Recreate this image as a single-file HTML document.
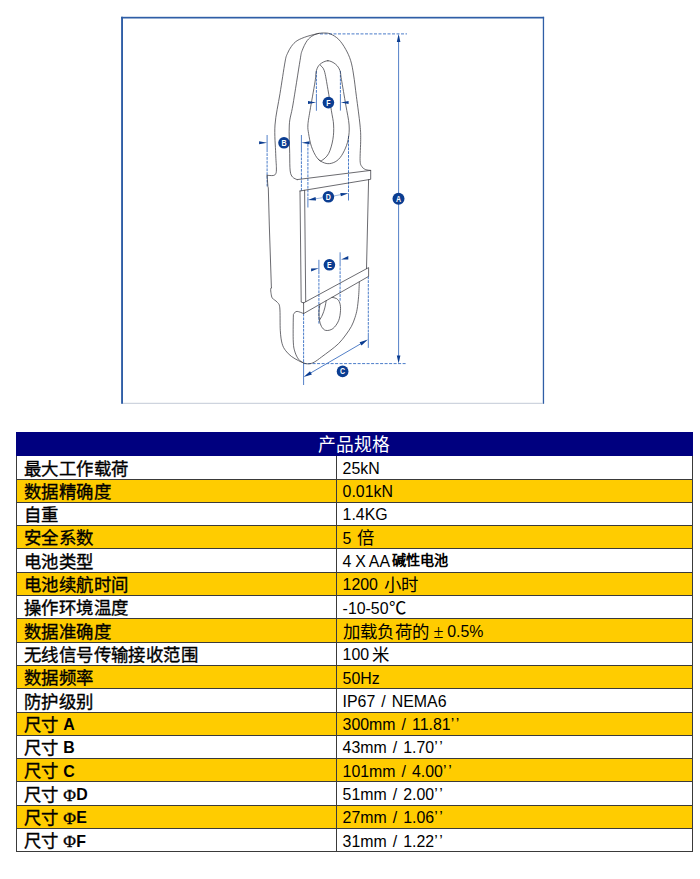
<!DOCTYPE html>
<html lang="zh-CN">
<head>
<meta charset="utf-8">
<title>产品规格</title>
<style>
  html, body { margin: 0; padding: 0; background: #ffffff; }
  body { width: 700px; height: 879px; position: relative; overflow: hidden;
         font-family: "Liberation Sans", sans-serif; color: #000; }
  #art { position: absolute; left: 0; top: 0; }
  table#spec { position: absolute; left: 16px; top: 432px; width: 677px;
               border-collapse: collapse; table-layout: fixed; }
  #spec td, #spec th { height: 19.7px; padding: 2.6px 0 0 0; border: 1px solid #3a3a3a;
               font-size: 15.9px; line-height: 19.7px; white-space: nowrap; overflow: hidden;
               vertical-align: middle; text-align: left; font-weight: normal; }
  #spec th { background: #00007f; color: #fff; text-align: center; border-color: #00007f;
             font-size: 17.8px; }
  #spec th span { position: relative; top: 0.5px; left: -0.5px; }
  #spec td.k { padding-left: 6.8px; }
  #spec td.v { padding-left: 5.6px; word-spacing: 1.6px; }
  #spec tr.y td { background: #ffcc00; }
  #spec .s { line-height: 0; font-family: "Liberation Serif", serif; font-size: 17.4px; letter-spacing: 0.45px; position: relative; top: 0.7px; }
  #spec .h { line-height: 0; font-size: 14.2px; font-weight: bold; position: relative; top: -1.6px; margin-left: -1px; }
  #spec .pm { line-height: 0; display: inline-block; width: 17.4px; text-align: center; font-size: 18px; letter-spacing: 0; }
  #spec .g { margin-left: 3px; }
  #spec td.nw { word-spacing: -0.6px; }
  #spec td.k .s { -webkit-text-stroke: 0.35px #000; }
  .b { font-weight: bold; }
  .q { letter-spacing: 2px; }
</style>
</head>
<body>
<svg id="art" width="700" height="420" viewBox="0 0 700 420">
<g fill="#2f5ea6"><rect x="121.1" y="16.8" width="1.9" height="387"/><rect x="121.1" y="16.8" width="423" height="1.7"/><rect x="542.8" y="16.8" width="1.3" height="387"/><rect x="123" y="402.8" width="420" height="1" fill="#c3cad6"/></g>
<g fill="none" stroke="#4a7cc9" stroke-width="1"><path stroke-dasharray="2.8 1" d="M316.4 71L316.4 96M340.4 71L340.4 96M267.1 186.4L267.1 151M301.4 190.7L301.4 151M307.9 144L307.9 198M348.5 136L348.5 193.4M318.9 323.6L318.9 272M340.1 300.7L340.1 265M303.6 313.6L303.6 364M368.3 276.4L368.3 333"/><path stroke-dasharray="3 1.5" d="M320 33.9L407 33.9M303.6 363.6L407 363.6"/></g>
<g fill="none" stroke="#5380c8" stroke-width="1"><path d="M316.4 96L316.4 110.8M340.4 96L340.4 110.6M267.1 135L267.1 151M301.4 135L301.4 151M307.9 198L307.9 207.5M348.5 193.4L348.5 200.5M318.9 259.8L318.9 272M340.1 252.3L340.1 265M303.6 364L303.6 385M368.3 333L368.3 347.9M398.6 36L398.6 361M306 375.7L365.5 341"/><path stroke="#9db6dd" d="M315 198.9L322.5 197.7M334 195.9L341 194.6"/></g>
<g fill="none" stroke="#3a3a40" stroke-width="0.75" stroke-linejoin="round" stroke-linecap="round">
<path d="M319 33.3C317 33.8 310.8 35.2 307.1 36.4C303.5 37.6 299.7 39 297.1 40.7C294.5 42.4 293 44.2 291.4 46.4C289.8 48.5 288.5 51 287.4 53.6C286.3 56.2 286.2 55.4 285 62.1C283.8 68.8 281.7 83.1 280 93.6C278.3 104.1 275.7 115 275 125C274.3 135 275.5 146.4 275.7 153.6C275.9 160.8 276.4 164.6 276.4 167.9C276.4 171.2 276.4 172.1 275.9 173.4C275.4 174.7 274.7 175.2 273.2 175.5C271.7 175.8 268.1 175.3 267.1 175.3"/>
<path d="M267.1 175.3L267.9 186.4L268.3 187.9L269.3 225L271.4 287.9"/>
<path d="M271.4 287.9C271.3 288 270.8 287.9 270.7 288.8C270.6 289.8 270.8 292 271.1 293.6C271.4 295.2 271.4 296.8 272.4 298.2C273.4 299.6 275.9 300.5 277.1 302.1C278.3 303.7 279.3 303.1 279.8 307.9C280.3 312.7 279.9 324.8 280.3 330.7C280.7 336.6 281.2 340.3 282.1 343.6C283 346.9 284.1 348.6 285.7 350.7C287.2 352.8 289.2 354.7 291.4 356.4C293.5 358.1 296.6 359.6 298.6 360.7C300.6 361.8 302.8 362.5 303.6 362.9"/>
<path d="M297.1 179.6C296.4 179.2 293.8 178.5 292.6 177.1C291.5 175.7 290.7 174.9 290.2 171C289.7 167.1 289.8 161.3 289.7 153.6C289.6 145.9 288.8 133.1 289.3 125C289.8 116.9 291.1 115.7 292.9 105C294.7 94.3 298.5 69.8 300 60.7C301.5 51.7 300.9 54 302.1 50.7C303.3 47.4 305.3 43.2 307.1 40.7C308.9 38.2 311 36.7 313 35.5C315 34.3 317 33.8 319 33.4C321 33 323.1 32.9 325 33C326.9 33.1 328.2 33 330.5 34C332.8 35 336.1 36.8 338.6 39.3C341.1 41.8 343.7 45.7 345.7 49.3C347.7 52.9 349.4 56.4 350.7 60.7C352 65 352.7 69 353.6 75C354.6 81 355.3 88.1 356.4 96.4C357.5 104.7 359.3 117.8 360 125C360.7 132.2 360.7 133.4 360.7 139.3C360.7 145.2 359.9 156.1 360.1 160.7C360.3 165.3 361.2 165.4 362.1 166.9C363 168.4 364.3 169 365.7 169.6C367.1 170.2 369.9 170.3 370.7 170.4L297.1 179.6"/>
<path d="M370.7 170.4L370.7 179.3L300 191"/>
<path d="M300 191L301.2 302.1L303.6 302.9"/>
<path d="M304.6 190.3L305.7 301.6"/>
<path d="M368.6 179.7L366.5 268.6"/>
<path d="M303.6 302.9L368.6 267.6L368.6 276.4L303.6 313.6L303.6 302.9"/>
<path d="M303.6 313.6C302.5 313.2 298.7 311.4 297.1 311.4C295.5 311.4 294.6 312.5 294 313.6C293.4 314.7 293.4 313.1 293.3 317.9C293.2 322.6 293 336.4 293.3 342.1C293.6 347.8 294.1 349.2 295 352.1C295.9 355 297.2 357.5 298.6 359.3C300 361.1 301.9 362.1 303.6 362.9C305.3 363.7 306.8 364 308.6 363.9C310.4 363.8 312.2 363.2 314.3 362.1C316.4 361 318.8 359 321.4 357.1C324 355.2 327.1 352.9 330 350.7C332.9 348.4 336 346.2 338.6 343.6C341.2 341 343.6 337.9 345.7 335C347.8 332.1 349.8 329.3 351.4 326.4C352.9 323.5 354.1 320.4 355 317.5C355.9 314.6 356.5 312.8 357.1 309.3C357.7 305.8 358.2 300.9 358.6 296.4C359 291.9 359.2 284.5 359.3 282.1"/>
<path d="M332 297.4C332.8 297.6 335.3 297.7 336.6 298.6C337.9 299.5 339.2 301 339.8 303C340.4 305 340.7 307.6 340.5 310.5C340.3 313.4 339.9 317.7 338.6 320.7C337.3 323.7 335 327 332.9 328.6C330.8 330.2 327.6 330.8 325.7 330.4C323.8 330 322.5 328.2 321.4 326.4C320.3 324.5 319.7 321.9 319.3 319.3C318.9 316.7 318.9 313.5 319 311C319.1 308.5 319.8 305.3 320 304.2"/>
<path d="M326.2 300.7C326 301.9 325.4 305.5 324.8 307.9C324.2 310.3 323.3 313 322.4 315C321.5 317 320.1 319.2 319.6 320"/>
<path d="M327.9 60.7C325.3 60.7 321.9 62.6 320 64.3C318.1 66 317.2 67.8 316.4 70.7C315.6 73.7 316.1 75.3 315 82C313.9 88.7 311.2 103.5 310 110.7C308.8 117.9 308.1 121.2 307.9 125C307.7 128.8 308 130 308.6 133.6C309.2 137.2 310 142.3 311.4 146.4C312.8 150.5 315 155.2 317.1 157.9C319.2 160.7 321.9 162 324.3 162.9C326.7 163.8 329 163.9 331.4 163.3C333.8 162.7 336.5 161.4 338.6 159.3C340.8 157.2 342.7 154 344.3 150.7C345.9 147.4 347.4 143.6 348.2 139.3C349 135 349.5 130.7 349.1 125C348.7 119.3 347.1 112.6 345.8 105C344.5 97.4 342.4 85 341.4 79.3C340.4 73.6 340.9 73.2 340 70.7C339.1 68.2 337.7 66 335.7 64.3C333.7 62.6 330.5 60.7 327.9 60.7Z"/>
<path d="M320 65C320.7 66 323 66.7 324.3 70.7C325.6 74.8 326.7 82.6 327.9 89.3C329.1 96 330.4 104.8 331.4 110.7C332.3 116.7 333.4 120.2 333.6 125C333.9 129.8 333.7 134.5 332.9 139.3C332.1 144.1 330.5 150 328.6 153.6C326.7 157.2 323.1 159.8 321.4 160.7C319.7 161.6 319.1 159.5 318.6 159.3"/>
</g>
<path fill="#0b3d91" d="M398.6 33.9L400.4 41.9L396.8 41.9ZM398.6 363.6L396.8 355.6L400.4 355.6ZM303.6 377.1L310 371.2L311.9 374.5ZM367.9 339.6L361.5 345.5L359.6 342.2ZM316.2 102.6L308 104L308 101.1ZM340.8 102.6L348.6 101.1L348.6 104ZM267.1 142.7L259.1 144.2L259.1 141.2ZM301.4 142.7L309.6 141.2L309.6 144.2ZM307.9 200L315.5 197.1L316.1 200.4ZM348.5 193.2L340.9 196.3L340.3 192.9ZM318.8 268.2L311.1 268.6L311.1 271.4ZM341 259.6L348.3 256.1L348.3 259.5Z"/>
<g font-family="'Liberation Sans', sans-serif" font-weight="bold" font-size="8.2" text-anchor="middle" fill="#fff">
<circle cx="398.5" cy="198.8" r="6" fill="#0b3d91"/><text transform="translate(398.5 201.8) scale(0.86 1)">A</text>
<circle cx="284" cy="142.8" r="5.8" fill="#0b3d91"/><text transform="translate(284 145.8) scale(0.86 1)">B</text>
<circle cx="342.6" cy="371.4" r="5.9" fill="#0b3d91"/><text transform="translate(342.6 374.3) scale(0.86 1)">C</text>
<circle cx="328.4" cy="196.8" r="5.8" fill="#0b3d91"/><text transform="translate(328.4 199.8) scale(0.86 1)">D</text>
<circle cx="329.4" cy="264.8" r="5.8" fill="#0b3d91"/><text transform="translate(329.4 267.8) scale(0.86 1)">E</text>
<circle cx="328.4" cy="102.6" r="5.8" fill="#0b3d91"/><text transform="translate(328.4 105.5) scale(0.86 1)">F</text>
</g>
</svg>
<table id="spec">
  <colgroup><col style="width:320px"><col></colgroup>
  <tr><th colspan="2"><span>产品规格</span></th></tr>
  <tr><td class="k"><span class="s">最大工作载荷</span></td><td class="v">25kN</td></tr>
  <tr class="y"><td class="k"><span class="s">数据精确度</span></td><td class="v">0.01kN</td></tr>
  <tr><td class="k"><span class="s">自重</span></td><td class="v">1.4KG</td></tr>
  <tr class="y"><td class="k"><span class="s">安全系数</span></td><td class="v">5 <span class="s">倍</span></td></tr>
  <tr><td class="k"><span class="s">电池类型</span></td><td class="v nw">4 X AA <span class="h">碱性电池</span></td></tr>
  <tr class="y"><td class="k"><span class="s">电池续航时间</span></td><td class="v">1200 <span class="s">小时</span></td></tr>
  <tr><td class="k"><span class="s">操作环境温度</span></td><td class="v">-10-50<span class="s">℃</span></td></tr>
  <tr class="y"><td class="k"><span class="s">数据准确度</span></td><td class="v"><span class="s">加载负荷的<span class="pm">±</span></span>0.5%</td></tr>
  <tr><td class="k"><span class="s">无线信号传输接收范围</span></td><td class="v">100<span class="s g">米</span></td></tr>
  <tr class="y"><td class="k"><span class="s">数据频率</span></td><td class="v">50Hz</td></tr>
  <tr><td class="k"><span class="s">防护级别</span></td><td class="v">IP67 / NEMA6</td></tr>
  <tr class="y"><td class="k"><span class="s">尺寸</span> <span class="b">A</span></td><td class="v">300mm / 11.81<span class="q">’’</span></td></tr>
  <tr><td class="k"><span class="s">尺寸</span> <span class="b">B</span></td><td class="v">43mm / 1.70<span class="q">’’</span></td></tr>
  <tr class="y"><td class="k"><span class="s">尺寸</span> <span class="b">C</span></td><td class="v">101mm / 4.00<span class="q">’’</span></td></tr>
  <tr><td class="k"><span class="s">尺寸</span> <span class="s">Φ</span><span class="b">D</span></td><td class="v">51mm / 2.00<span class="q">’’</span></td></tr>
  <tr class="y"><td class="k"><span class="s">尺寸</span> <span class="s">Φ</span><span class="b">E</span></td><td class="v">27mm / 1.06<span class="q">’’</span></td></tr>
  <tr><td class="k"><span class="s">尺寸</span> <span class="s">Φ</span><span class="b">F</span></td><td class="v">31mm / 1.22<span class="q">’’</span></td></tr>
</table>
</body>
</html>
